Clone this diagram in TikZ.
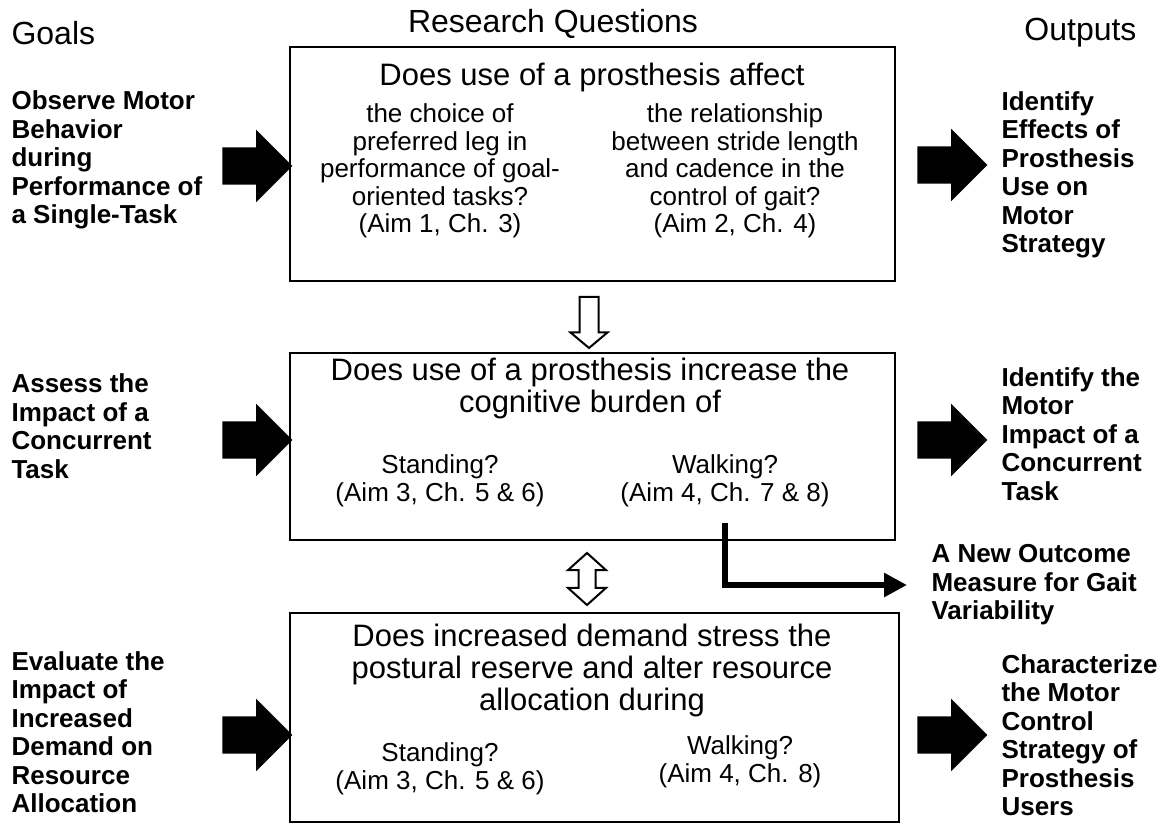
\documentclass[tikz,border=0pt]{standalone}
\usepackage{fontspec}
\setmainfont{Liberation Sans}
\usepackage{tikz}
\usetikzlibrary{arrows.meta, positioning, shapes.arrows}

\begin{document}
\begin{tikzpicture}[
    x=1pt, y=-1pt,
    title/.style={font=\fontsize{32}{36}\selectfont},
    box/.style={draw, line width=2.5pt, minimum width=605pt, inner sep=0pt},
    head/.style={align=center, font=\fontsize{31}{32}\selectfont},
    body/.style={align=center, font=\fontsize{26}{27.5}\selectfont},
    side/.style={align=left, anchor=west, font=\bfseries\fontsize{26}{28.5}\selectfont},
    bigarrow/.style={single arrow, fill=black, inner xsep=0pt, inner ysep=18.5pt,
        minimum height=70pt, single arrow head extend=17.5pt},
    hollow/.style={single arrow, draw, line width=2pt, fill=white, inner xsep=0pt,
        inner ysep=8.5pt, minimum height=51pt, single arrow head extend=9pt,
        single arrow tip angle=100, rotate=-90},
    hollowtwo/.style={double arrow, draw, line width=2pt, fill=white, inner xsep=0pt,
        inner ysep=7.5pt, minimum height=52pt, double arrow head extend=10.5pt,
        double arrow tip angle=96, rotate=90},
    elbow/.style={line width=6pt, -{Triangle[length=23pt, width=23pt]}}
]
\useasboundingbox (0,0) rectangle (1162,830);

% column titles
\node[title, anchor=west] (goals) at (8,33) {Goals};
\node[title] (rq) at (553,24) {Research Questions};
\node[title, anchor=east] (outs) at (1140,33) {Outputs};

% question boxes
\node[box, minimum height=234pt] (box1) at (592.5,164) {};
\node[box, minimum height=187pt] (box2) at (592.5,446.5) {};
\node[box, minimum height=209pt, minimum width=609pt] (box3) at (594.5,717.5) {};

\node[head] (q1) at (592,77) {Does use of a prosthesis affect};
\node[body] (q1a) at (440,171) {the choice of\\preferred leg in\\performance of goal-\\oriented tasks?\\(Aim 1, Ch. 3)};
\node[body] (q1b) at (735,171) {the relationship\\between stride length\\and cadence in the\\control of gait?\\(Aim 2, Ch. 4)};

\node[head] (q2) at (590,388) {Does use of a prosthesis increase the\\cognitive burden of};
\node[body] (q2a) at (440,481) {Standing?\\(Aim 3, Ch. 5 \& 6)};
\node[body] (q2b) at (725,481) {Walking?\\(Aim 4, Ch. 7 \& 8)};

\node[head] (q3) at (592,670) {Does increased demand stress the\\postural reserve and alter resource\\allocation during};
\node[body] (q3a) at (440,769) {Standing?\\(Aim 3, Ch. 5 \& 6)};
\node[body] (q3b) at (740,762) {Walking?\\(Aim 4, Ch. 8)};

% goals
\node[side] (goal1) at (8,160) {Observe Motor\\Behavior\\during\\Performance of\\a Single-Task};
\node[side] (goal2) at (8,426) {Assess the\\Impact of a\\Concurrent\\Task};
\node[side] (goal3) at (8,732) {Evaluate the\\Impact of\\Increased\\Demand on\\Resource\\Allocation};

% outputs
\node[side] (out1) at (998,175) {Identify\\Effects of\\Prosthesis\\Use on\\Motor\\Strategy};
\node[side] (out2) at (998,434) {Identify the\\Motor\\Impact of a\\Concurrent\\Task};
\node[side] (newout) at (928,585) {A New Outcome\\Measure for Gait\\Variability};
\node[side] (out3) at (998,735) {Characterize\\the Motor\\Control\\Strategy of\\Prosthesis\\Users};

% block arrows
\node[bigarrow] (arr1) at (248,166) {};
\node[bigarrow] (arr2) at (248,440) {};
\node[bigarrow] (arr3) at (248,735) {};
\node[bigarrow] (arr4) at (943,165) {};
\node[bigarrow] (arr5) at (943,440) {};
\node[bigarrow] (arr6) at (943,735) {};

% links between boxes
\node[hollow] (down) at (589,318.5) {};
\node[hollowtwo] (both) at (587,579) {};

\draw[elbow] ([xshift=132pt, yshift=18pt]box2.south) |- (newout.west) [shorten >=21pt];
\end{tikzpicture}
\end{document}
